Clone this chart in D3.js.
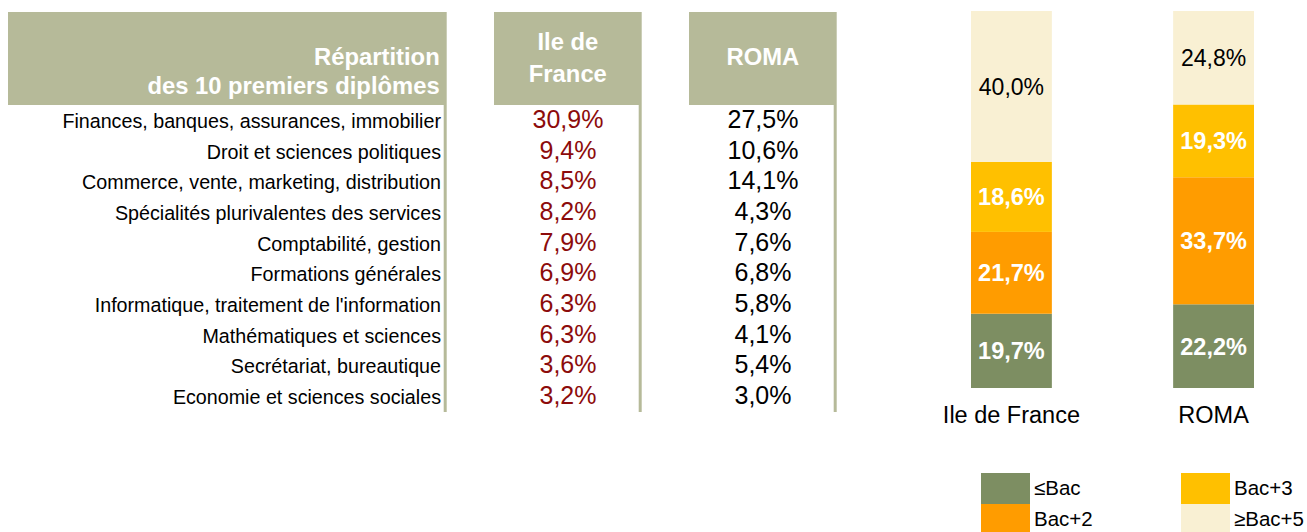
<!DOCTYPE html>
<html>
<head>
<meta charset="utf-8">
<script src="https://cdn.jsdelivr.net/npm/d3@7"></script>
<style>
  body { margin: 0; background: #fff; }
  svg { display: block; font-family: "Liberation Sans", Arial, sans-serif; }
</style>
</head>
<body>
<div id="chart"></div>
<script>
// données
const diplomes = [
  "Finances, banques, assurances, immobilier",
  "Droit et sciences politiques",
  "Commerce, vente, marketing, distribution",
  "Spécialités plurivalentes des services",
  "Comptabilité, gestion",
  "Formations générales",
  "Informatique, traitement de l'information",
  "Mathématiques et sciences",
  "Secrétariat, bureautique",
  "Economie et sciences sociales"
];
const partIdf  = [30.9, 9.4, 8.5, 8.2, 7.9, 6.9, 6.3, 6.3, 3.6, 3.2];
const partRoma = [27.5, 10.6, 14.1, 4.3, 7.6, 6.8, 5.8, 4.1, 5.4, 3.0];

const territoires = ["Ile de France", "ROMA"];
const niveaux = ["≤Bac", "Bac+2", "Bac+3", "≥Bac+5"];
const niveauxIdf  = [19.7, 21.7, 18.6, 40.0];
const niveauxRoma = [22.2, 33.7, 19.3, 24.8];

const headerColor = "#b6ba99";
const colors = ["#7d8e62", "#ff9c00", "#ffc000", "#f9f0d3"];

const fr = d3.formatLocale({ decimal: ",", thousands: " ", grouping: [3], currency: ["", " €"] });
const pct = v => fr.format(".1f")(v) + "%";

const svg = d3.select("#chart").append("svg")
  .attr("width", 1307)
  .attr("height", 532);

// ---------- tableau ----------
const cols = [
  { x0: 8,   x1: 446.7, lines: ["Répartition", "des 10 premiers diplômes"], anchor: "end" },
  { x0: 494, x1: 641.7, lines: ["Ile de", "France"], anchor: "middle" },
  { x0: 689, x1: 836.7, lines: ["ROMA"], anchor: "middle" }
];

const head = svg.append("g");
cols.forEach(c => {
  head.append("rect")
    .attr("x", c.x0).attr("y", 12)
    .attr("width", c.x1 - c.x0).attr("height", 93)
    .attr("fill", headerColor);
  // trait vertical à droite de la colonne
  head.append("rect")
    .attr("x", c.x1 - 3).attr("y", 105)
    .attr("width", 3).attr("height", 307)
    .attr("fill", headerColor);
  const tx = c.anchor === "end" ? c.x1 - 7 : (c.x0 + c.x1) / 2;
  const ys = c.lines.length === 1 ? [65] : (c.anchor === "end" ? [65, 94] : [50, 82]);
  c.lines.forEach((t, i) => {
    head.append("text")
      .attr("x", tx).attr("y", ys[i])
      .attr("text-anchor", c.anchor)
      .attr("fill", "#fff")
      .attr("font-weight", "bold")
      .attr("font-size", 23.8)
      .text(t);
  });
});

const rowY = d3.scalePoint().domain(diplomes).range([128, 404]);

svg.append("g").selectAll("text")
  .data(diplomes)
  .join("text")
  .attr("x", 441)
  .attr("y", d => rowY(d))
  .attr("text-anchor", "end")
  .attr("font-size", 19.7)
  .attr("fill", "#000")
  .text(d => d);

svg.append("g").selectAll("text")
  .data(partIdf)
  .join("text")
  .attr("x", 568)
  .attr("y", (d, i) => rowY(diplomes[i]))
  .attr("text-anchor", "middle")
  .attr("font-size", 25)
  .attr("fill", "#8c0b0b")
  .text(pct);

svg.append("g").selectAll("text")
  .data(partRoma)
  .join("text")
  .attr("x", 763)
  .attr("y", (d, i) => rowY(diplomes[i]))
  .attr("text-anchor", "middle")
  .attr("font-size", 25)
  .attr("fill", "#000")
  .text(pct);

// ---------- barres empilées ----------
const table = territoires.map((t, i) => {
  const vals = i === 0 ? niveauxIdf : niveauxRoma;
  const row = { territoire: t };
  niveaux.forEach((n, j) => row[n] = vals[j]);
  return row;
});

const series = d3.stack().keys(niveaux)(table);

const x = d3.scaleBand().domain(territoires).range([971, 1254]).paddingInner(0.6);
const y = d3.scaleLinear().domain([0, 100]).range([388, 11]);
const color = d3.scaleOrdinal().domain(niveaux).range(colors);

const barG = svg.append("g");
series.forEach(s => {
  barG.append("g").selectAll("rect")
    .data(s)
    .join("rect")
    .attr("x", d => x(d.data.territoire))
    .attr("y", d => y(d[1]))
    .attr("width", x.bandwidth())
    .attr("height", d => y(d[0]) - y(d[1]))
    .attr("fill", color(s.key));

  const last = s.key === "≥Bac+5";
  barG.append("g").selectAll("text")
    .data(s)
    .join("text")
    .attr("x", d => x(d.data.territoire) + x.bandwidth() / 2)
    .attr("y", d => (y(d[0]) + y(d[1])) / 2)
    .attr("dy", "0.36em")
    .attr("text-anchor", "middle")
    .attr("font-size", last ? 23 : 23.5)
    .attr("font-weight", last ? "normal" : "bold")
    .attr("fill", last ? "#000" : "#fff")
    .text(d => pct(d[1] - d[0]));
});

// axe des catégories (sans trait)
const xAxis = svg.append("g")
  .attr("transform", "translate(0,388)")
  .call(d3.axisBottom(x).tickSize(0).tickPadding(18));
xAxis.select(".domain").remove();
xAxis.selectAll("text")
  .attr("font-family", "Liberation Sans, Arial, sans-serif")
  .attr("font-size", 23.5)
  .attr("fill", "#000");

// ---------- légende ----------
const legendPos = [
  { x: 981,  y: 473 },
  { x: 981,  y: 504 },
  { x: 1181, y: 473 },
  { x: 1181, y: 504 }
];
const leg = svg.append("g").selectAll("g")
  .data(niveaux)
  .join("g")
  .attr("transform", (d, i) => `translate(${legendPos[i].x},${legendPos[i].y})`);
leg.append("rect")
  .attr("width", 49).attr("height", 31)
  .attr("fill", d => color(d));
leg.append("text")
  .attr("x", 53).attr("y", 21.5)
  .attr("font-size", 20.5)
  .attr("fill", "#000")
  .text(d => d);
</script>
</body>
</html>
